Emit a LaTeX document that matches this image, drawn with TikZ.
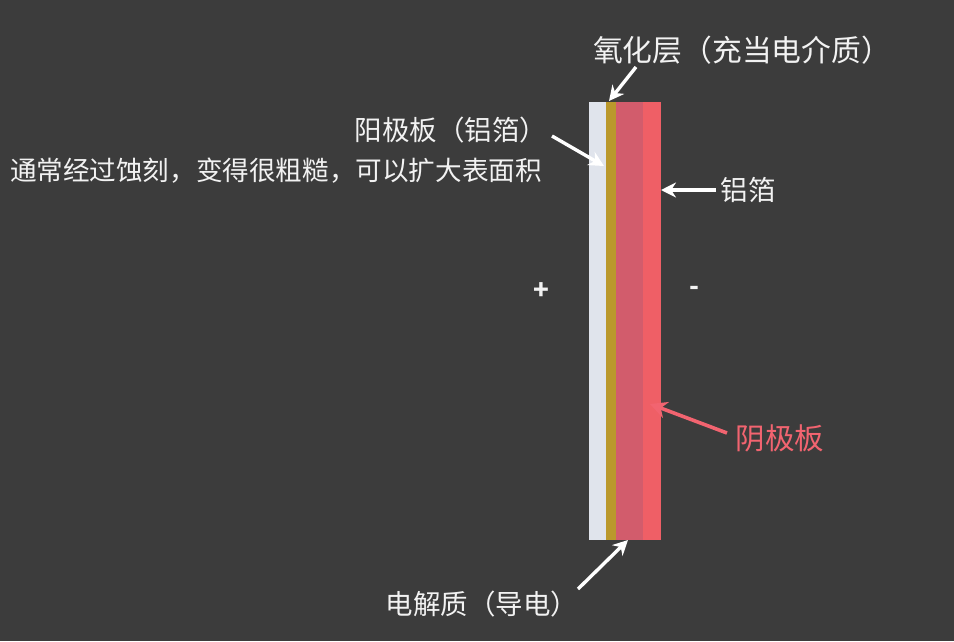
\documentclass[tikz,border=0pt]{standalone}
\usepackage{fontspec}
\setmainfont{Noto Sans CJK SC}
\usetikzlibrary{arrows.meta}
\definecolor{bg}{HTML}{3C3C3C}
\definecolor{txt}{HTML}{F2F2F2}
\definecolor{foilw}{HTML}{E0E4EC}
\definecolor{oxide}{HTML}{BA982C}
\definecolor{elec}{HTML}{D25C6C}
\definecolor{foilr}{HTML}{EF5F66}
\definecolor{redtxt}{HTML}{F26470}
\tikzset{
  lbl/.style={inner sep=0pt, text=txt, font=\fontsize{27.5}{30}\selectfont},
  redlbl/.style={inner sep=0pt, text=redtxt, font=\fontsize{29.5}{32}\selectfont},
  sign/.style={inner sep=0pt, text=txt, font=\fontsize{26}{28}\selectfont\bfseries},
  warrow/.style={draw=white, line width=3.4pt, -{Stealth[length=15pt,width=15pt]}},
  rarrow/.style={draw=redtxt, line width=3.6pt, -{Stealth[length=17pt,width=17pt]}},
}
\begin{document}
\begin{tikzpicture}[x=1pt,y=-1pt]
\fill[bg] (0,0) rectangle (954,641);
\useasboundingbox (0,0) rectangle (954,641);
% layers
\fill[foilw] (589,102) rectangle (606,540);
\fill[oxide] (606,102) rectangle (616,540);
\fill[elec] (616,102) rectangle (643,540);
\fill[foilr] (643,102) rectangle (661,540);
% labels
\node[lbl, font=\fontsize{29.8}{32}\selectfont] (ox) at (742,50) {氧化层（充当电介质）};
\node[lbl] (an) at (451,130) {阳极板（铝箔）};
\node[lbl, font=\fontsize{26.6}{29}\selectfont] (an2) at (276,171) {通常经过蚀刻，变得很粗糙，可以扩大表面积};
\node[lbl] (al) at (748,190) {铝箔};
\node[sign] (plus) at (541,291) {+};
\node[sign] (minus) at (694,291) {-};
\node[redlbl] (ca) at (780,438) {阴极板};
\node[lbl] (el) at (482,604) {电解质（导电）};
% arrow ends
\coordinate (oxT) at (636,67);   \coordinate (oxH) at (609,101);
\coordinate (anT) at (552,136);  \coordinate (anH) at (604,166);
\coordinate (alT) at (716,190);  \coordinate (alH) at (661,190);
\coordinate (caT) at (727,433);  \coordinate (caH) at (650,404);
\coordinate (elT) at (578,589);  \coordinate (elH) at (628,540);
\draw[warrow] (oxT) -- (oxH);
\draw[warrow] (anT) -- (anH);
\draw[warrow] (alT) -- (alH);
\draw[rarrow] (caT) -- (caH);
\draw[warrow] (elT) -- (elH);
\end{tikzpicture}
\end{document}
